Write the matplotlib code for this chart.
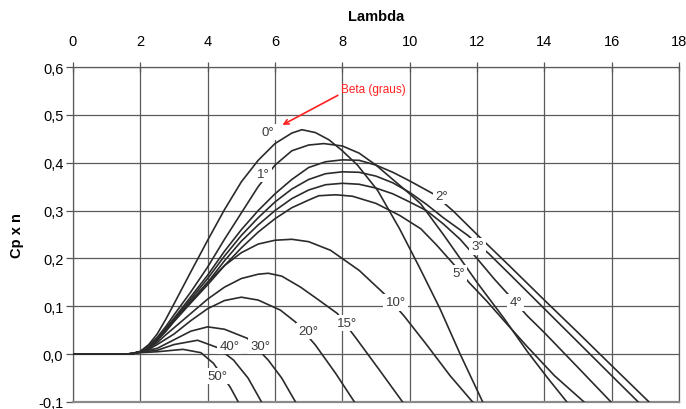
import numpy as np
import matplotlib
matplotlib.use('Agg')
import matplotlib.pyplot as plt
from matplotlib.ticker import FuncFormatter

# Cp x lambda curves, one per pitch angle (beta, degrees)
lam_0 = [0, 1.5, 1.75, 2, 2.25, 2.5, 2.75, 3, 3.5, 4, 4.5, 5, 5.5, 6, 6.5, 6.8, 7.2, 7.6, 8, 8.45, 9.05, 9.7, 10.3, 10.9, 11.5, 12.17]
cp_0 = [0, 0, 0.001, 0.006, 0.02, 0.042, 0.072, 0.105, 0.172, 0.238, 0.302, 0.36, 0.405, 0.44, 0.462, 0.469, 0.463, 0.448, 0.425, 0.395, 0.342, 0.262, 0.18, 0.095, 0.0, -0.1]

lam_1 = [0, 1.5, 1.75, 2, 2.25, 2.5, 2.75, 3, 3.5, 4, 4.5, 5, 5.5, 6, 6.5, 7, 7.45, 8, 8.5, 9, 9.5, 10, 10.33, 11, 11.5, 12.02, 12.8, 13.5, 14.1, 14.67]
cp_1 = [0, 0, 0.001, 0.005, 0.017, 0.035, 0.057, 0.082, 0.13, 0.182, 0.24, 0.295, 0.35, 0.395, 0.425, 0.437, 0.44, 0.435, 0.42, 0.395, 0.365, 0.335, 0.314, 0.25, 0.2, 0.148, 0.075, 0.005, -0.05, -0.1]

lam_2 = [0, 1.5, 1.75, 2, 2.25, 2.5, 2.75, 3, 3.5, 4, 4.5, 5, 5.5, 6, 6.5, 7, 7.5, 8, 8.5, 9, 9.5, 10, 10.7, 11.28, 12, 13, 14, 15, 16, 17.11]
cp_2 = [0, 0, 0.001, 0.005, 0.016, 0.033, 0.053, 0.075, 0.12, 0.165, 0.215, 0.26, 0.3, 0.335, 0.365, 0.39, 0.402, 0.406, 0.405, 0.395, 0.38, 0.362, 0.335, 0.3, 0.25, 0.182, 0.113, 0.045, -0.024, -0.1]

lam_3 = [0, 1.5, 1.75, 2, 2.25, 2.5, 2.75, 3, 3.5, 4, 4.5, 5, 5.5, 6, 6.5, 7, 7.5, 8, 8.5, 9, 9.5, 10, 10.5, 11, 11.73, 12.35, 13, 14, 15, 16, 16.79]
cp_3 = [0, 0, 0.001, 0.005, 0.015, 0.031, 0.05, 0.072, 0.115, 0.158, 0.205, 0.248, 0.285, 0.318, 0.345, 0.365, 0.377, 0.381, 0.38, 0.372, 0.358, 0.338, 0.313, 0.285, 0.248, 0.21, 0.165, 0.095, 0.025, -0.045, -0.1]

lam_4 = [0, 1.5, 1.75, 2, 2.25, 2.5, 2.75, 3, 3.5, 4, 4.5, 5, 5.5, 6, 6.5, 7, 7.5, 8, 8.5, 9, 9.5, 10, 10.5, 11, 11.5, 12, 12.5, 12.95, 13.48, 14, 15, 15.98]
cp_4 = [0, 0, 0.001, 0.005, 0.015, 0.03, 0.049, 0.07, 0.11, 0.15, 0.195, 0.236, 0.27, 0.3, 0.325, 0.343, 0.354, 0.357, 0.355, 0.347, 0.335, 0.318, 0.3, 0.272, 0.24, 0.2, 0.158, 0.123, 0.081, 0.045, -0.028, -0.1]

lam_5 = [0, 1.5, 1.75, 2, 2.25, 2.5, 2.75, 3, 3.5, 4, 4.5, 5, 5.5, 6, 6.5, 7, 7.3, 7.8, 8.3, 9, 9.7, 10.33, 10.8, 11.28, 11.76, 12.3, 12.8, 13.5, 14.3, 15.18]
cp_5 = [0, 0, 0.001, 0.005, 0.014, 0.029, 0.047, 0.068, 0.107, 0.145, 0.185, 0.222, 0.255, 0.283, 0.306, 0.322, 0.331, 0.333, 0.33, 0.315, 0.29, 0.262, 0.228, 0.19, 0.15, 0.11, 0.07, 0.015, -0.045, -0.1]

lam_10 = [0, 1.5, 1.75, 2, 2.25, 2.5, 2.75, 3, 3.5, 4, 4.5, 5, 5.5, 6, 6.5, 7, 7.65, 8.5, 9.23, 9.82, 10.5, 11.2, 11.87]
cp_10 = [0, 0, 0.001, 0.005, 0.014, 0.028, 0.048, 0.07, 0.11, 0.15, 0.185, 0.212, 0.23, 0.238, 0.24, 0.235, 0.217, 0.175, 0.127, 0.081, 0.02, -0.045, -0.1]

lam_15 = [0, 1.5, 1.75, 2, 2.25, 2.5, 2.75, 3, 3.5, 4, 4.5, 5, 5.5, 5.8, 6.2, 6.76, 7.3, 7.85, 8.39, 9.1, 9.79]
cp_15 = [0, 0, 0.001, 0.005, 0.012, 0.024, 0.04, 0.055, 0.085, 0.115, 0.14, 0.158, 0.167, 0.169, 0.163, 0.14, 0.113, 0.085, 0.035, -0.033, -0.1]

lam_20 = [0, 1.5, 1.75, 2, 2.25, 2.5, 2.75, 3, 3.5, 4, 4.5, 5, 5.5, 6.16, 6.61, 7.2, 7.8, 8.36]
cp_20 = [0, 0, 0.001, 0.005, 0.01, 0.02, 0.031, 0.042, 0.07, 0.095, 0.112, 0.119, 0.113, 0.092, 0.067, 0.019, -0.04, -0.1]

lam_30 = [0, 1.5, 1.75, 2, 2.5, 3, 3.5, 4, 4.5, 5.18, 5.8, 6.2, 6.61]
cp_30 = [0, 0, 0.001, 0.005, 0.012, 0.03, 0.048, 0.057, 0.052, 0.033, -0.0125, -0.05, -0.1]

lam_40 = [0, 1.5, 1.75, 2, 2.5, 3, 3.7, 4.28, 4.77, 5.2, 5.6]
cp_40 = [0, 0, 0.001, 0.004, 0.008, 0.02, 0.029, 0.014, -0.0125, -0.05, -0.1]

lam_50 = [0, 1.5, 1.75, 2, 2.5, 3.27, 3.8, 4.17, 4.67, 4.91]
cp_50 = [0, 0, 0.001, 0.003, 0.005, 0.01, 0.003, -0.019, -0.069, -0.1]

curves = [(lam_0, cp_0), (lam_1, cp_1), (lam_2, cp_2), (lam_3, cp_3), (lam_4, cp_4), (lam_5, cp_5),
          (lam_10, cp_10), (lam_15, cp_15), (lam_20, cp_20), (lam_30, cp_30), (lam_40, cp_40), (lam_50, cp_50)]

beta_labels = ['0°', '1°', '2°', '3°', '4°', '5°', '10°', '15°', '20°', '30°', '40°', '50°']
label_pos = [(5.8, 0.465), (5.65, 0.377), (10.95, 0.331), (12.02, 0.225), (13.15, 0.108), (11.46, 0.169),
             (9.58, 0.108), (8.15, 0.065), (6.99, 0.048), (5.57, 0.017), (4.64, 0.017), (4.29, -0.046)]

x_ticks = [0, 2, 4, 6, 8, 10, 12, 14, 16, 18]
y_ticks = [-0.1, 0.0, 0.1, 0.2, 0.3, 0.4, 0.5, 0.6]

plt.rcParams['font.family'] = ['Liberation Sans', 'DejaVu Sans']


def comma(v, pos):
    return ('%.1f' % v).replace('.', ',')


def plot():
    fig = plt.figure(figsize=(6.86, 4.10), dpi=100)
    ax = fig.add_axes([0.1064, 0.0171, 0.8834, 0.8170])

    for lam, cp in curves:
        ax.plot(lam, cp, color='#2b2b2b', linewidth=1.2, zorder=3, clip_on=True)

    for txt, (x, y) in zip(beta_labels, label_pos):
        ax.text(x, y, txt, fontsize=9.5, color='#3a3a3a', ha='center', va='center', zorder=5,
                bbox=dict(facecolor='white', edgecolor='none', pad=1.5))

    ax.annotate('Beta (graus)', xy=(6.22, 0.479), xytext=(7.95, 0.554),
                color='#ff2020', fontsize=8.5, ha='left', va='center', zorder=6,
                arrowprops=dict(arrowstyle='->', color='#ff2020', lw=1.2, shrinkA=0, shrinkB=0,
                                relpos=(0, 0.1)))

    ax.set_xlim(0, 18)
    ax.set_ylim(-0.1, 0.6)
    ax.set_xticks(x_ticks)
    ax.set_yticks(y_ticks)
    ax.yaxis.set_major_formatter(FuncFormatter(comma))
    ax.xaxis.tick_top()
    ax.xaxis.set_label_position('top')
    ax.tick_params(axis='x', direction='inout', length=7, width=0.9, color='#555555', labelsize=10.5, pad=10)
    ax.tick_params(axis='y', direction='out', length=5, width=0.9, color='#555555', labelsize=10.5, pad=2)
    ax.grid(True, color='#5a5a5a', linewidth=0.9, zorder=1)
    ax.set_axisbelow(True)
    for s in ax.spines.values():
        s.set_color('#5a5a5a')
        s.set_linewidth(0.9)
    ax.spines['bottom'].set_linewidth(1.6)
    ax.spines['bottom'].set_color('#8a8a8a')

    ax.set_xlabel('Lambda', fontsize=10.5, fontweight='bold', labelpad=10)
    ax.set_ylabel('Cp x n', fontsize=10.5, fontweight='bold', labelpad=10)

    fig.savefig('out.png', dpi=100, facecolor='white')


if __name__ == '__main__':
    plot()
